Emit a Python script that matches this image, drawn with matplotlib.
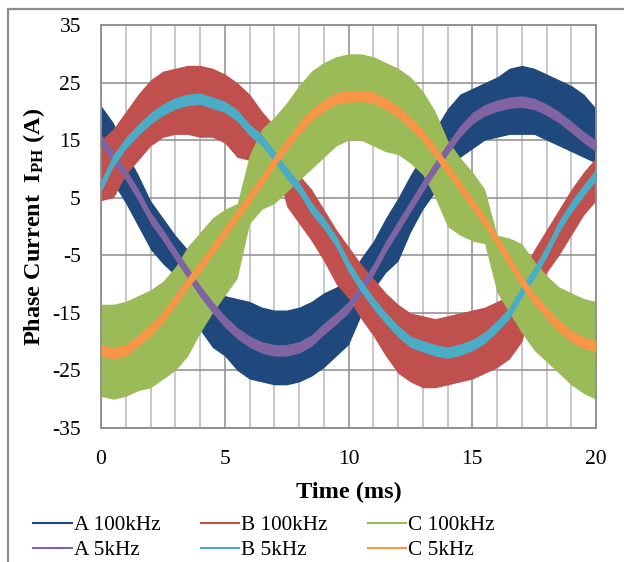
import numpy as np
import matplotlib.pyplot as plt
from matplotlib.patches import Rectangle
from matplotlib.ticker import MultipleLocator

plt.rcParams['font.family'] = ['Liberation Serif', 'DejaVu Serif']
plt.rcParams['mathtext.fontset'] = 'custom'
plt.rcParams['mathtext.rm'] = 'Liberation Serif'
plt.rcParams['mathtext.bf'] = 'Liberation Serif:bold'
plt.rcParams['mathtext.it'] = 'Liberation Serif:italic'
plt.rcParams['axes.unicode_minus'] = False

# sample times (ms)
time_ms = [0, 0.5, 1, 1.5, 2, 2.5, 3, 3.5, 4, 4.5, 5, 5.5, 6, 6.5, 7, 7.5, 8, 8.5, 9, 9.5,
           10, 10.5, 11, 11.5, 12, 12.5, 13, 13.5, 14, 14.5, 15, 15.5, 16, 16.5, 17, 17.5,
           18, 18.5, 19, 19.5, 20]

# 100kHz switching: upper / lower edge of the ripple band (A)
a100_hi = [21, 18, 13, 9, 4.5, 1.5, -1.5, -4, -7, -10, -12, -12.5, -13, -14, -14.5, -14.5,
           -14, -13, -11.5, -10.5, -9, -5.5, -2.5, 1.5, 5, 9, 12.5, 17, 20.5, 23, 24, 25,
           26, 27.5, 28, 27.5, 26.5, 25.5, 24.5, 23, 20.5]
a100_lo = [11, 7.5, 4, 0, -4, -6.5, -8.5, -10.5, -18, -21, -22.5, -25, -26.5, -27, -27.5,
           -27.5, -27, -26, -24.5, -22.5, -20.5, -15.5, -11, -8, -6, -1, 3, 6, 9, 12, 13.5,
           15, 15.5, 16, 16, 16, 15, 14, 13, 12, 11]
b100_hi = [15, 17, 20, 23, 25.5, 27, 27.5, 28, 28, 27.5, 26.5, 25, 23, 20, 17.5, 11, 9, 6.5,
           3, -0.5, -3.5, -6.5, -9, -11.5, -13.5, -15, -15.5, -16, -15.5, -15, -14.5, -14,
           -13, -12, -8, -4, -0.5, 3, 6.5, 9.5, 12]
b100_lo = [4.5, 5, 9, 11.5, 14, 15.5, 16, 16, 15.5, 15.5, 14.5, 12, 11.5, 12, 11.5, 3.5, 0.5,
           -2.5, -6, -10, -12.5, -16, -19, -22.5, -25.5, -27, -28, -28, -27.5, -27, -26.5,
           -25.5, -24.5, -23, -20, -12.5, -8, -5, -1.5, 2, 4.5]
c100_hi = [-13.5, -13.5, -13, -12, -11, -9.5, -7, -3.5, -1, 1.5, 3, 4, 12.5, 17, 19, 21.5,
           24.5, 27, 28.5, 29.5, 30, 30, 29.5, 28.5, 27.5, 26, 23.5, 20, 15, 12, 9.5, 6.5,
           -1.5, -2, -3, -6, -8.5, -10.5, -11.5, -12.5, -13]
c100_lo = [-29.5, -30, -29.5, -28.5, -28, -26.5, -25, -22.5, -18.5, -15, -12, -9, 0.5, 3, 4,
           6, 8, 10, 12, 14, 15, 15, 14, 13, 12.5, 11, 9, 5, 0, -1.5, -2.5, -3, -11.5, -15,
           -18.5, -21.5, -23.5, -25.5, -27.5, -29, -30]

# 5kHz switching: mid line of each phase current (A)
a5 = [15, 12, 9, 5.5, 1.5, -1.5, -4.8, -8, -11.2, -14, -16.5, -18.5, -20, -21, -21.5, -21.5,
      -21, -19.8, -17.8, -16, -14, -10.8, -7.5, -3.5, 0, 3.5, 7, 10.3, 13.5, 16.5, 18.8,
      20.2, 21, 21.5, 21.7, 21.3, 20.3, 19, 17.3, 15.5, 14]
b5 = [7, 11.5, 14.5, 16.8, 18.8, 20.3, 21.4, 22, 22.2, 21.5, 20.8, 19.3, 16.8, 15, 12.2, 9.3,
      6.7, 3.2, 0.6, -2.6, -6.9, -10.3, -13.3, -15.9, -18.2, -20, -20.8, -21.5, -21.9, -21.4,
      -20.6, -19.3, -17.3, -15, -11.3, -8.1, -4.3, 0, 3.4, 6.3, 9]
c5 = [-21.5, -22, -21.5, -19.8, -18, -15.7, -12.8, -9.8, -7, -4, -1, 2, 5, 8, 11.3, 14.2, 17,
      19.4, 21, 22.3, 22.6, 22.7, 22.4, 21.3, 19.9, 18, 15.8, 13, 10, 7, 4, 1, -2.5, -6,
      -9.5, -12.5, -15, -17.3, -19, -20.2, -20.8]
ripple_5k = 1.0  # half height of the 5kHz ripple band

t = np.array(time_ms)

fig = plt.figure(figsize=(6.24, 5.62), dpi=100)
ax = fig.add_axes([0.1619, 0.2384, 0.7933, 0.7171])

bands = [(a100_lo, a100_hi, '#1F497D', 'A 100kHz'),
         (b100_lo, b100_hi, '#C0504D', 'B 100kHz'),
         (c100_lo, c100_hi, '#9BBB59', 'C 100kHz')]
mids = [(a5, '#8064A2', 'A 5kHz'),
        (b5, '#4BACC6', 'B 5kHz'),
        (c5, '#F79646', 'C 5kHz')]

handles = {}
for lo, hi, col, name in bands:
    ax.fill_between(t, lo, hi, color=col, lw=0, zorder=2)
    handles[name], = ax.plot([], [], color=col, lw=1.5, label=name)
for mid, col, name in mids:
    m = np.array(mid)
    ax.fill_between(t, m - ripple_5k, m + ripple_5k, color=col, lw=0, zorder=3)
    handles[name], = ax.plot([], [], color=col, lw=1.5, label=name)

ax.set_xlim(0, 20)
ax.set_ylim(-35, 35)
ax.xaxis.set_major_locator(MultipleLocator(5))
ax.xaxis.set_minor_locator(MultipleLocator(1))
ax.set_yticks(np.arange(-35, 36, 10))
ax.set_axisbelow(True)
ax.grid(which='major', color='#8c8c8c', lw=1.1)
ax.grid(which='minor', axis='x', color='#c8c8c8', lw=1.4)
ax.tick_params(which='both', length=0, labelsize=15.5)
ax.tick_params(axis='y', pad=14.5)
ax.tick_params(axis='x', pad=16)
for s in ax.spines.values():
    s.set_color('#8c8c8c')
    s.set_linewidth(1.3)

ax.set_xlabel('Time (ms)', fontsize=17.5, fontweight='bold', labelpad=9)
ax.set_ylabel(r'Phase Current  I$_{\mathbf{PH}}$ (A)', fontsize=17.5, fontweight='bold', labelpad=4)

order = ['A 100kHz', 'A 5kHz', 'B 100kHz', 'B 5kHz', 'C 100kHz', 'C 5kHz']
fig.legend([handles[k] for k in order], order, loc='upper left', bbox_to_anchor=(0.04, 0.098),
           ncol=3, frameon=False, fontsize=15.3, handlelength=1.8, handletextpad=0.1,
           columnspacing=1.9, labelspacing=0.25, borderaxespad=0)

# chart border
fig.add_artist(Rectangle((8 / 624, -0.2), 1.2, 1.2 - 9 / 562, transform=fig.transFigure,
                         fill=False, ec='#8c8c8c', lw=1.6))

fig.savefig('out.png', dpi=100)
